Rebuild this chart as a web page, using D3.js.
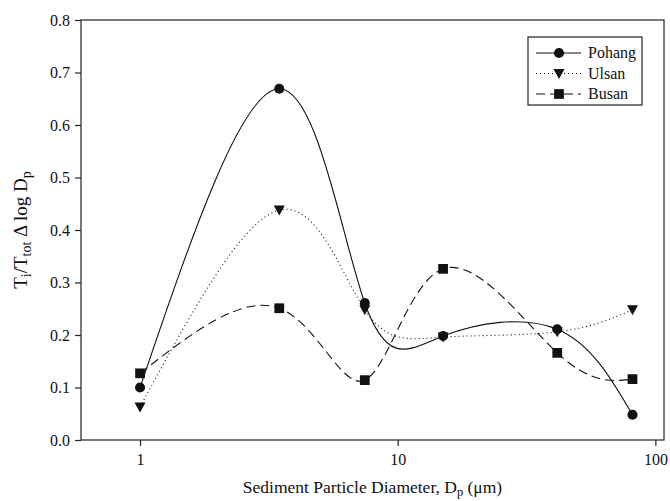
<!DOCTYPE html>
<html>
<head>
<meta charset="utf-8">
<script src="https://cdn.jsdelivr.net/npm/d3@7"></script>
<style>
  body { margin: 0; background: #fff; }
  svg text { font-family: "Liberation Serif", "DejaVu Serif", "Noto Serif", serif !important; fill: #111; }
</style>
</head>
<body>
<svg width="670" height="501"></svg>
<script>
const diameters = [1, 3.47, 7.45, 15, 41.6, 81.5];
const pohang = [0.100, 0.669, 0.261, 0.198, 0.211, 0.048];
const ulsan = [0.063, 0.438, 0.248, 0.196, 0.206, 0.248];
const busan = [0.127, 0.251, 0.114, 0.326, 0.166, 0.116];
const yTicks = [0, 0.1, 0.2, 0.3, 0.4, 0.5, 0.6, 0.7, 0.8];
const xTicks = [1, 10, 100];

const series = [
  { name: "Pohang", values: pohang, dash: null, symbol: d3.symbolCircle },
  { name: "Ulsan", values: ulsan, dash: "1,3", symbol: "tri" },
  { name: "Busan", values: busan, dash: "9,5", symbol: d3.symbolSquare },
];

const serif = "'Liberation Serif', 'DejaVu Serif', serif";
const svg = d3.select("svg");
const plotLeft = 81, plotRight = 664, plotTop = 20, plotBottom = 440;

const x = d3.scaleLog().domain([0.59, 108]).range([plotLeft, plotRight]);
const y = d3.scaleLinear().domain([0, 0.8]).range([plotBottom, plotTop]);

// frame
svg.append("rect")
  .attr("x", plotLeft).attr("y", plotTop)
  .attr("width", plotRight - plotLeft).attr("height", plotBottom - plotTop)
  .attr("fill", "none").attr("stroke", "#222").attr("stroke-width", 1.2);

const yAxis = svg.append("g")
  .attr("transform", `translate(${plotLeft},0)`)
  .call(d3.axisLeft(y).tickValues(yTicks).tickFormat(d3.format(".1f")).tickSize(6).tickPadding(5));
const xAxis = svg.append("g")
  .attr("transform", `translate(0,${plotBottom})`)
  .call(d3.axisBottom(x).tickValues(xTicks).tickFormat(d3.format("d")).tickSize(6).tickPadding(8));

[yAxis, xAxis].forEach(g => {
  g.attr("font-family", serif);
  g.select(".domain").remove();
  g.selectAll("line").attr("stroke", "#222").attr("stroke-width", 1.2);
  g.selectAll("text").style("font-size", "16px").attr("fill", "#111");
});

// axis titles
const xt = svg.append("text")
  .attr("x", (plotLeft + plotRight) / 2).attr("y", 493)
  .attr("font-family", serif)
  .attr("text-anchor", "middle").style("font-size", "17.5px");
xt.append("tspan").text("Sediment Particle Diameter, D");
xt.append("tspan").text("p").attr("baseline-shift", "-25%").style("font-size", "12.5px");
xt.append("tspan").text(" (\u03bcm)");

const yt = svg.append("text")
  .attr("transform", `translate(27,${(plotTop + plotBottom) / 2}) rotate(-90)`)
  .attr("font-family", serif)
  .attr("text-anchor", "middle").style("font-size", "19px");
yt.append("tspan").text("T");
yt.append("tspan").text("i").attr("baseline-shift", "-25%").style("font-size", "14px");
yt.append("tspan").text("/T");
yt.append("tspan").text("tot").attr("baseline-shift", "-25%").style("font-size", "14px");
yt.append("tspan").text(" \u0394 log D");
yt.append("tspan").text("p").attr("baseline-shift", "-25%").style("font-size", "14px");

const line = d3.line()
  .x((d, i) => x(diameters[i]))
  .y(d => y(d))
  .curve(d3.curveNatural);

const triPath = "M-5.5,-4.5L5.5,-4.5L0,5.5Z";
const symbolPath = s => s === "tri" ? triPath : d3.symbol().type(s).size(s === d3.symbolCircle ? 80 : 95)();

series.forEach(s => {
  svg.append("path")
    .attr("d", line(s.values))
    .attr("fill", "none")
    .attr("stroke", "#111")
    .attr("stroke-width", 1.1)
    .attr("stroke-dasharray", s.dash);

  svg.append("g").selectAll("path")
    .data(s.values)
    .join("path")
    .attr("transform", (d, i) => `translate(${x(diameters[i])},${y(d)})`)
    .attr("d", symbolPath(s.symbol))
    .attr("fill", "#111");
});

// legend
const lg = svg.append("g").attr("font-family", serif);
lg.append("rect")
  .attr("x", 528).attr("y", 37).attr("width", 114).attr("height", 68)
  .attr("fill", "#fff").attr("stroke", "#222").attr("stroke-width", 1.2);

series.forEach((s, i) => {
  const ly = 53 + i * 20.5;
  lg.append("line")
    .attr("x1", 536).attr("x2", 581).attr("y1", ly).attr("y2", ly)
    .attr("stroke", "#111").attr("stroke-width", 1.1)
    .attr("stroke-dasharray", s.dash);
  lg.append("path")
    .attr("transform", `translate(559,${ly})`)
    .attr("d", symbolPath(s.symbol))
    .attr("fill", "#111");
  lg.append("text")
    .attr("x", 588).attr("y", ly + 5)
    .style("font-size", "16px")
    .text(s.name);
});
</script>
</body>
</html>
